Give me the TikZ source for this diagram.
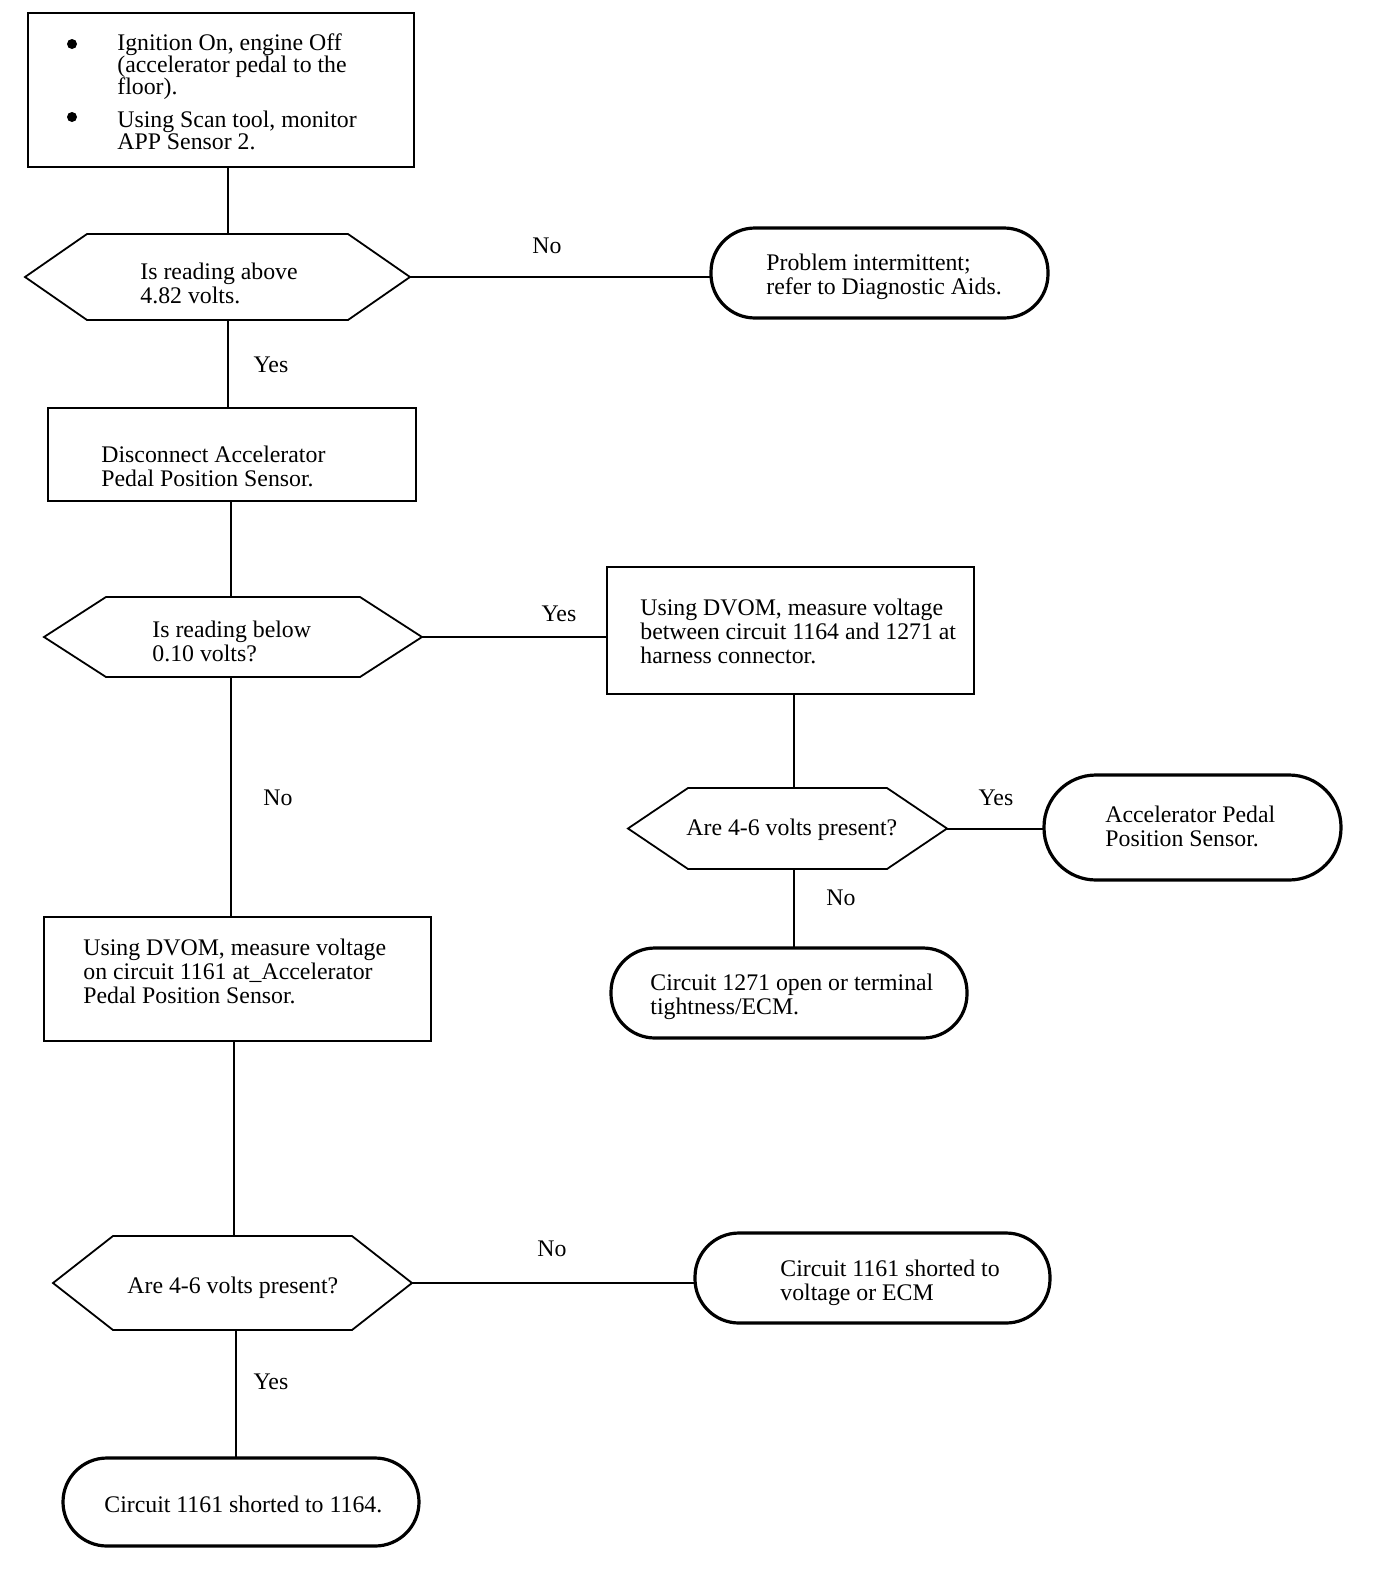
\documentclass[tikz,border=0pt]{standalone}
\usepackage{fontspec}
\setmainfont{Liberation Serif}
\usetikzlibrary{fit}
\begin{document}
\begin{tikzpicture}[x=0.5pt,y=-0.5pt,
  boxline/.style={draw, line width=0.8pt},
  hexline/.style={line width=0.9pt, line join=miter},
  termline/.style={draw, line width=1.6pt},
  conn/.style={line width=1pt},
  shapebox/.style={inner sep=0pt, outer sep=0pt},
  txt/.style={inner sep=0pt, anchor=west, align=left, font=\fontsize{11.9}{12}\selectfont},
  txtb/.style={inner sep=0pt, anchor=west, align=left, font=\fontsize{11.9}{11}\selectfont},
  lbl/.style={inner sep=0pt, font=\fontsize{11.9}{12}\selectfont},
  bul/.style={circle, fill, inner sep=0pt, minimum size=5pt}
]
\newcommand\hexdraw[2]{\draw[hexline] (#1.west) -- ([xshift=#2]#1.north west) -- ([xshift=-#2]#1.north east) -- (#1.east) -- ([xshift=-#2]#1.south east) -- ([xshift=#2]#1.south west) -- cycle;}
\useasboundingbox (0,0) rectangle (1376,1574);

% shapes
\node[shapebox, boxline, fit={(28,13) (414,167)}] (b1) {};
\node[shapebox, fit={(25,234) (410,320)}] (h1) {};
\hexdraw{h1}{31pt}
\node[shapebox, termline, rounded corners=22pt, fit={(711,228) (1048,318)}] (t1) {};
\node[shapebox, boxline, fit={(48,408) (416,501)}] (b2) {};
\node[shapebox, fit={(44,597) (422,677)}] (h2) {};
\hexdraw{h2}{31pt}
\node[shapebox, boxline, fit={(607,567) (974,694)}] (b3) {};
\node[shapebox, fit={(628,788) (947,869)}] (h3) {};
\hexdraw{h3}{30pt}
\node[shapebox, termline, rounded corners=26pt, fit={(1044,775) (1341,880)}] (t2) {};
\node[shapebox, termline, rounded corners=22pt, fit={(611,948) (967,1038)}] (t3) {};
\node[shapebox, boxline, fit={(44,917) (431,1041)}] (b4) {};
\node[shapebox, fit={(53,1236) (412,1330)}] (h4) {};
\hexdraw{h4}{30pt}
\node[shapebox, termline, rounded corners=22pt, fit={(695,1233) (1050,1323)}] (t4) {};
\node[shapebox, termline, rounded corners=22pt, fit={(63,1458) (419,1546)}] (t5) {};

% texts
\node[bul] (bu1) at (72,44) {};
\node[bul] (bu2) at (72,117) {};
\node[txtb] (x1) at (117,67) {Ignition On, engine Off\\(accelerator pedal to the\\floor).};
\node[txtb] (x2) at (117,130) {Using Scan tool, monitor\\APP Sensor 2.};
\node[txt] (xh1) at (140,283) {Is reading above\\4.82 volts.};
\node[txt] (xt1) at (766,277) {Problem intermittent;\\refer to Diagnostic Aids.};
\node[txt] (xb2) at (101,466) {Disconnect Accelerator\\Pedal Position Sensor.};
\node[txt] (xh2) at (152,641) {Is reading below\\0.10 volts?};
\node[txt] (xb3) at (640,631) {Using DVOM, measure voltage\\between circuit 1164 and 1271 at\\harness connector.};
\node[txt] (xh3) at (686,830) {Are 4-6 volts present?};
\node[txt] (xt2) at (1105,826) {Accelerator Pedal\\Position Sensor.};
\node[txt] (xt3) at (650,997) {Circuit 1271 open or terminal\\tightness/ECM.};
\node[txt] (xb4) at (83,971) {Using DVOM, measure voltage\\on circuit 1161 at\_Accelerator\\Pedal Position Sensor.};
\node[txt] (xh4) at (127,1288) {Are 4-6 volts present?};
\node[txt] (xt4) at (780,1283) {Circuit 1161 shorted to\\voltage or ECM};
\node[txt] (xt5) at (104,1504) {Circuit 1161 shorted to 1164.};

% labels
\node[lbl] (l1) at (547,246) {No};
\node[lbl] (l2) at (271,365) {Yes};
\node[lbl] (l3) at (559,614) {Yes};
\node[lbl] (l4) at (278,798) {No};
\node[lbl] (l5) at (996,798) {Yes};
\node[lbl] (l6) at (841,898) {No};
\node[lbl] (l7) at (552,1249) {No};
\node[lbl] (l8) at (271,1382) {Yes};

% connectors
\draw[conn] ([xshift=3.5pt]b1.south) -- ([xshift=5.25pt]h1.north);
\draw[conn] ([xshift=5.25pt]h1.south) -- ([xshift=-2pt]b2.north);
\draw[conn] ([xshift=-0.5pt]b2.south) -- ([xshift=-1pt]h2.north);
\draw[conn] ([xshift=-1pt]h2.south) -- ([xshift=-3.25pt]b4.north);
\draw[conn] ([xshift=-1.75pt]b4.south) -- ([xshift=0.75pt]h4.north);
\draw[conn] ([xshift=1.75pt]h4.south) -- ([xshift=-2.5pt]t5.north);
\draw[conn] ([xshift=1.75pt]b3.south) -- ([xshift=3.25pt]h3.north);
\draw[conn] ([xshift=3.25pt]h3.south) -- ([xshift=2.5pt]t3.north);
\draw[conn] (h1.east) -- (h1.east -| t1.west);
\draw[conn] (h2.east) -- (h2.east -| b3.west);
\draw[conn] (h3.east) -- (h3.east -| t2.west);
\draw[conn] (h4.east) -- (h4.east -| t4.west);
\end{tikzpicture}
\end{document}
